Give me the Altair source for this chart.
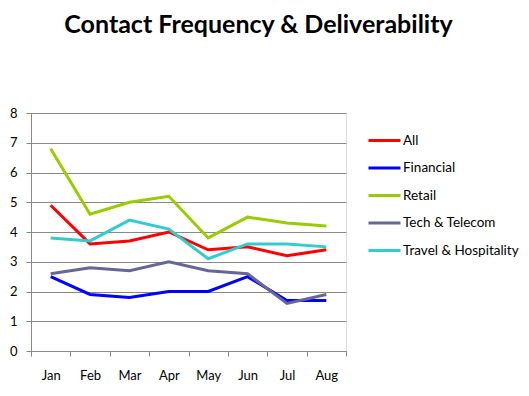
import altair as alt
import pandas as pd

months = ["Jan", "Feb", "Mar", "Apr", "May", "Jun", "Jul", "Aug"]
series_names = ["All", "Financial", "Retail", "Tech & Telecom", "Travel & Hospitality"]
all_vals = [4.9, 3.6, 3.7, 4.0, 3.4, 3.5, 3.2, 3.4]
financial = [2.5, 1.9, 1.8, 2.0, 2.0, 2.5, 1.7, 1.7]
retail = [6.8, 4.6, 5.0, 5.2, 3.8, 4.5, 4.3, 4.2]
tech = [2.6, 2.8, 2.7, 3.0, 2.7, 2.6, 1.6, 1.9]
travel = [3.8, 3.7, 4.4, 4.1, 3.1, 3.6, 3.6, 3.5]
colors = ["#FF0000", "#0000FF", "#99CC00", "#666699", "#33CCCC"]
y_ticks = [0, 1, 2, 3, 4, 5, 6, 7, 8]

rows = []
for name, vals in zip(series_names, [all_vals, financial, retail, tech, travel]):
    for i, (m, v) in enumerate(zip(months, vals)):
        rows.append({"series": name, "month": m, "idx": i, "value": v})
df = pd.DataFrame(rows)

x_tick_vals = [i * 0.5 - 0.5 for i in range(17)]
label_expr = "floor(datum.value) == datum.value ? " + str(months) + "[datum.value] : ''"

FONT = "Lato"
GRID = "#888888"

chart = alt.Chart(df).mark_line(strokeWidth=3).encode(
    x=alt.X("idx:Q",
            scale=alt.Scale(domain=[-0.5, 7.5], nice=False, zero=False),
            axis=alt.Axis(values=x_tick_vals, labelExpr=label_expr, title=None,
                          grid=False, domainColor=GRID, tickColor=GRID,
                          tickOpacity=alt.condition("floor(datum.value) == datum.value", alt.value(0), alt.value(1)),
                          tickSize=5, labelPadding=13, labelFont=FONT, labelFontSize=13,
                          labelColor="black", labelFlush=False, labelOverlap=False)),
    y=alt.Y("value:Q",
            scale=alt.Scale(domain=[0, 8], nice=False),
            axis=alt.Axis(values=y_ticks, title=None, grid=True, gridColor=GRID,
                          domainColor=GRID, tickColor=GRID, tickSize=5, labelPadding=9,
                          labelFont=FONT, labelFontSize=13, labelColor="black")),
    color=alt.Color("series:N",
                    scale=alt.Scale(domain=series_names, range=colors),
                    legend=alt.Legend(title=None, orient="none", legendX=336, legendY=18,
                                      symbolType="M-1,0L3,0", symbolSize=256,
                                      symbolStrokeWidth=3, labelOffset=17,
                                      labelFont=FONT, labelFontSize=13.5, labelColor="black",
                                      rowPadding=11.5, padding=0)),
    detail="series:N",
).properties(
    width=315,
    height=238,
    title=alt.TitleParams("Contact Frequency & Deliverability", font=FONT, fontSize=25,
                          fontWeight="bold", color="black", anchor="middle", dx=70,
                          offset=44, baseline="bottom"),
    autosize=alt.AutoSizeParams(type="none"),
    padding={"left": 23, "top": 105, "right": 175, "bottom": 37},
).configure_view(stroke=None).configure(background="white")

chart.save("out.html", embed_options={"renderer": "svg", "actions": False})
